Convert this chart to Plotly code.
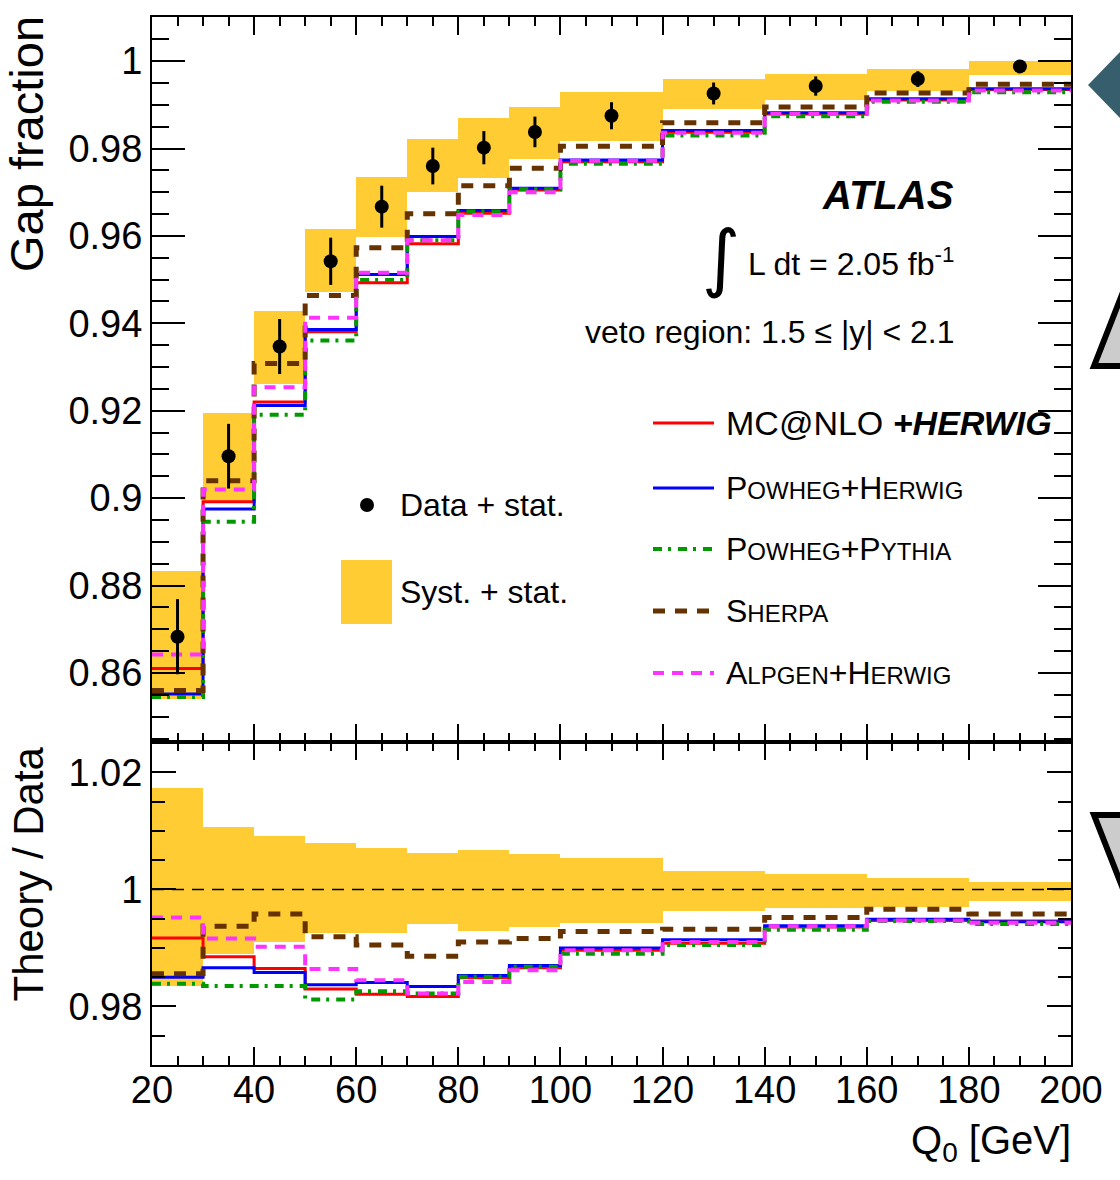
import plotly.graph_objects as go

# ---------------- data ----------------
edges = [20, 30, 40, 50, 60, 70, 80, 90, 100, 120, 140, 160, 180, 200]

data_val = [0.8683, 0.9096, 0.9347, 0.9542, 0.9667, 0.9760, 0.9802, 0.9838, 0.9875, 0.9926, 0.9943, 0.9959, 0.9988]
data_stat = [0.0086, 0.0074, 0.0063, 0.0054, 0.0048, 0.0042, 0.0038, 0.0035, 0.0031, 0.0025, 0.0022, 0.0018, 0.0010]
band_lo = [0.8540, 0.8992, 0.9262, 0.9471, 0.9597, 0.9701, 0.9733, 0.9775, 0.9818, 0.9890, 0.9911, 0.9932, 0.9968]
band_hi = [0.8834, 0.9194, 0.9428, 0.9617, 0.9736, 0.9821, 0.9870, 0.9896, 0.9930, 0.9959, 0.9970, 0.9982, 1.0000]

mcnlo = [0.8610, 0.8992, 0.9220, 0.9381, 0.9493, 0.9582, 0.9652, 0.9705, 0.9770, 0.9837, 0.9879, 0.9911, 0.9935]
powheg_herwig = [0.8552, 0.8975, 0.9212, 0.9386, 0.9512, 0.9599, 0.9658, 0.9709, 0.9774, 0.9841, 0.9882, 0.9914, 0.9937]
powheg_pythia = [0.8545, 0.8946, 0.9191, 0.9361, 0.9499, 0.9590, 0.9656, 0.9707, 0.9765, 0.9830, 0.9874, 0.9907, 0.9929]
sherpa = [0.8560, 0.9040, 0.9308, 0.9464, 0.9573, 0.9651, 0.9715, 0.9755, 0.9805, 0.9859, 0.9895, 0.9927, 0.9947]
alpgen = [0.8642, 0.9020, 0.9254, 0.9413, 0.9516, 0.9590, 0.9648, 0.9700, 0.9772, 0.9836, 0.9879, 0.9910, 0.9933]

ratio_band_lo = [0.9835, 0.9889, 0.9910, 0.9926, 0.9926, 0.9941, 0.9929, 0.9936, 0.9943, 0.9963, 0.9968, 0.9970, 0.9981]
ratio_band_hi = [1.0174, 1.0107, 1.0092, 1.0080, 1.0071, 1.0063, 1.0068, 1.0061, 1.0054, 1.0032, 1.0027, 1.0020, 1.0012]
ratio_mcnlo = [0.9917, 0.9885, 0.9865, 0.9830, 0.9821, 0.9817, 0.9849, 0.9866, 0.9896, 0.9908, 0.9936, 0.9947, 0.9946]
ratio_powheg_herwig = [0.9850, 0.9866, 0.9858, 0.9837, 0.9841, 0.9834, 0.9853, 0.9870, 0.9900, 0.9914, 0.9938, 0.9949, 0.9945]
ratio_powheg_pythia = [0.9839, 0.9835, 0.9835, 0.9812, 0.9826, 0.9822, 0.9851, 0.9868, 0.9890, 0.9905, 0.9931, 0.9946, 0.9941]
ratio_sherpa = [0.9856, 0.9937, 0.9958, 0.9919, 0.9905, 0.9886, 0.9910, 0.9916, 0.9928, 0.9932, 0.9952, 0.9966, 0.9958]
ratio_alpgen = [0.9952, 0.9916, 0.9902, 0.9864, 0.9845, 0.9822, 0.9842, 0.9862, 0.9896, 0.9910, 0.9937, 0.9947, 0.9943]

model_names = ["MC@NLO +HERWIG", "Powheg+Herwig", "Powheg+Pythia", "Sherpa", "Alpgen+Herwig"]

# ---------------- helpers ----------------
W, H = 1120, 1180
L, R, T, B = 152, 1071, 17, 1065
SPLIT = 742
FONT = "Liberation Sans, Arial, Helvetica, sans-serif"


def px(x):
    return (x - L) / (R - L)


def py(y):
    return (B - y) / (B - T)


centers = [(a + b) / 2 for a, b in zip(edges[:-1], edges[1:])]
widths = [b - a for a, b in zip(edges[:-1], edges[1:])]

YELLOW = "#ffcc33"
styles = [
    dict(color="#ff0000", width=3, dash="solid"),
    dict(color="#0000ff", width=3, dash="solid"),
    dict(color="#009900", width=4, dash="9px,6px,3px,7px"),
    dict(color="#663300", width=5, dash="12px,10px"),
    dict(color="#ff33ff", width=4, dash="11px,8px"),
]

fig = go.Figure()

# bands
fig.add_trace(go.Bar(x=centers, y=[h - l for h, l in zip(band_hi, band_lo)], base=band_lo,
                     width=widths, marker=dict(color=YELLOW, line=dict(width=0)),
                     xaxis="x", yaxis="y", showlegend=False, hoverinfo="skip"))
fig.add_trace(go.Bar(x=centers, y=[h - l for h, l in zip(ratio_band_hi, ratio_band_lo)], base=ratio_band_lo,
                     width=widths, marker=dict(color=YELLOW, line=dict(width=0)),
                     xaxis="x2", yaxis="y2", showlegend=False, hoverinfo="skip"))

top_models = [mcnlo, powheg_herwig, powheg_pythia, sherpa, alpgen]
ratio_models = [ratio_mcnlo, ratio_powheg_herwig, ratio_powheg_pythia, ratio_sherpa, ratio_alpgen]

for vals, st, name in zip(top_models, styles, model_names):
    fig.add_trace(go.Scatter(x=edges, y=vals + [vals[-1]], mode="lines", line_shape="hv",
                             line=st, xaxis="x", yaxis="y", name=name, showlegend=False))
for vals, st, name in zip(ratio_models, styles, model_names):
    fig.add_trace(go.Scatter(x=edges, y=vals + [vals[-1]], mode="lines", line_shape="hv",
                             line=st, xaxis="x2", yaxis="y2", name=name, showlegend=False))

fig.add_trace(go.Scatter(x=centers, y=data_val, mode="markers",
                         marker=dict(color="black", size=14),
                         error_y=dict(type="data", array=data_stat, visible=True, color="black",
                                      thickness=3, width=0),
                         xaxis="x", yaxis="y", showlegend=False, name="Data"))

axis_common = dict(showline=True, linewidth=2, linecolor="black", mirror="allticks",
                   showgrid=False, zeroline=False, ticks="inside", tickcolor="black",
                   tickwidth=2)

fig.update_layout(
    width=W, height=H,
    margin=dict(l=L, r=W - R, t=T, b=H - B),
    paper_bgcolor="white", plot_bgcolor="white",
    barmode="overlay", bargap=0,
    font=dict(family=FONT, color="black", size=32),
    showlegend=False,
    xaxis=dict(domain=[0, 1], anchor="y", range=[20, 200], dtick=20, tick0=0, ticklen=18,
               showticklabels=False, matches="x2",
               minor=dict(ticks="inside", dtick=5, ticklen=9, tickwidth=2, tickcolor="black"),
               **axis_common),
    xaxis2=dict(domain=[0, 1], anchor="y2", range=[20, 200], dtick=20, tick0=0, ticklen=18,
                tickfont=dict(size=38, family=FONT), ticklabelstandoff=-10,
                minor=dict(ticks="inside", dtick=5, ticklen=9, tickwidth=2, tickcolor="black"),
                **axis_common),
    yaxis=dict(domain=[py(SPLIT), 1], anchor="x", range=[0.8442, 1.0101], dtick=0.02, tick0=0,
               ticklen=33, tickfont=dict(size=38, family=FONT),
               minor=dict(ticks="inside", dtick=0.005, ticklen=17, tickwidth=2, tickcolor="black"),
               **axis_common),
    yaxis2=dict(domain=[0, py(SPLIT)], anchor="x2", range=[0.97, 1.0252], dtick=0.02, tick0=0,
                ticklen=24, tickfont=dict(size=38, family=FONT),
                minor=dict(ticks="inside", dtick=0.005, ticklen=13, tickwidth=2, tickcolor="black"),
                **axis_common),
)

shapes = []
# ratio = 1 line
shapes.append(dict(type="line", xref="x2", yref="y2", x0=20, x1=200, y0=1, y1=1,
                   line=dict(color="black", width=1.5, dash="12px,8px"), layer="above"))

# legend: data marker & syst box
shapes.append(dict(type="circle", xref="paper", yref="paper",
                   x0=px(360), x1=px(374), y0=py(512), y1=py(498),
                   fillcolor="black", line=dict(width=0)))
shapes.append(dict(type="rect", xref="paper", yref="paper",
                   x0=px(341), x1=px(392), y0=py(624), y1=py(560),
                   fillcolor=YELLOW, line=dict(width=0)))
leg_y = [423, 488, 549, 611, 673]
for yy, st in zip(leg_y, styles):
    shapes.append(dict(type="line", xref="paper", yref="paper",
                       x0=px(653), x1=px(714), y0=py(yy), y1=py(yy),
                       line=dict(color=st["color"], width=st["width"], dash=st["dash"])))


# decorative partial icons on the right edge
def path_px(points):
    s = "M " + " L ".join(f"{px(x):.5f},{py(y):.5f}" for x, y in points) + " Z"
    return s


shapes.append(dict(type="path", xref="paper", yref="paper",
                   path=path_px([(1088, 85), (1123, 49), (1158, 85), (1123, 121)]),
                   fillcolor="#375e6c", line=dict(width=0)))
shapes.append(dict(type="path", xref="paper", yref="paper",
                   path=path_px([(1094, 366), (1141, 246), (1188, 366)]),
                   fillcolor="#cccccc", line=dict(color="black", width=6)))
shapes.append(dict(type="path", xref="paper", yref="paper",
                   path=path_px([(1094, 815), (1188, 815), (1141, 935)]),
                   fillcolor="#cccccc", line=dict(color="black", width=6)))

fig.update_layout(shapes=shapes)

sc = "font-size:24px"
leg_labels = [
    "MC@NLO <b><i>+HERWIG</i></b>",
    f"P<span style='{sc}'>OWHEG</span>+H<span style='{sc}'>ERWIG</span>",
    f"P<span style='{sc}'>OWHEG</span>+P<span style='{sc}'>YTHIA</span>",
    f"S<span style='{sc}'>HERPA</span>",
    f"A<span style='{sc}'>LPGEN</span>+H<span style='{sc}'>ERWIG</span>",
]
leg_sizes = [34, 32, 32, 32, 32]

ann = []
for yy, lab, fs in zip(leg_y, leg_labels, leg_sizes):
    ann.append(dict(text=lab, xref="paper", yref="paper", x=px(724), y=py(yy),
                    xanchor="left", yanchor="middle", showarrow=False, font=dict(size=fs)))
ann.append(dict(text="Data + stat.", xref="paper", yref="paper", x=px(398), y=py(505),
                xanchor="left", yanchor="middle", showarrow=False, font=dict(size=32)))
ann.append(dict(text="Syst. + stat.", xref="paper", yref="paper", x=px(398), y=py(592),
                xanchor="left", yanchor="middle", showarrow=False, font=dict(size=32)))
ann.append(dict(text="<b><i>ATLAS</i></b>", xref="paper", yref="paper", x=px(956), y=py(195),
                xanchor="right", yanchor="middle", showarrow=False, font=dict(size=40)))
ann.append(dict(text="∫", xref="paper", yref="paper", x=px(721), y=py(257),
                xanchor="center", yanchor="middle", showarrow=False,
                font=dict(size=74, family="DejaVu Sans")))
ann.append(dict(text="L dt = 2.05 fb<sup>-1</sup>", xref="paper", yref="paper", x=px(956), y=py(262),
                xanchor="right", yanchor="middle", showarrow=False, font=dict(size=32)))
ann.append(dict(text="veto region: 1.5 ≤ |y| < 2.1", xref="paper", yref="paper", x=px(957), y=py(332),
                xanchor="right", yanchor="middle", showarrow=False, font=dict(size=32)))
ann.append(dict(text="Gap fraction", xref="paper", yref="paper", x=px(27), y=py(14),
                xanchor="center", yanchor="top", textangle=-90, showarrow=False, font=dict(size=47)))
ann.append(dict(text="Theory / Data", xref="paper", yref="paper", x=px(28), y=py(745),
                xanchor="center", yanchor="top", textangle=-90, showarrow=False, font=dict(size=42)))
ann.append(dict(text="Q<sub>0</sub> [GeV]", xref="paper", yref="paper", x=px(1073), y=py(1143),
                xanchor="right", yanchor="middle", showarrow=False, font=dict(size=40)))
fig.update_layout(annotations=ann)

fig.write_html("out.html")
